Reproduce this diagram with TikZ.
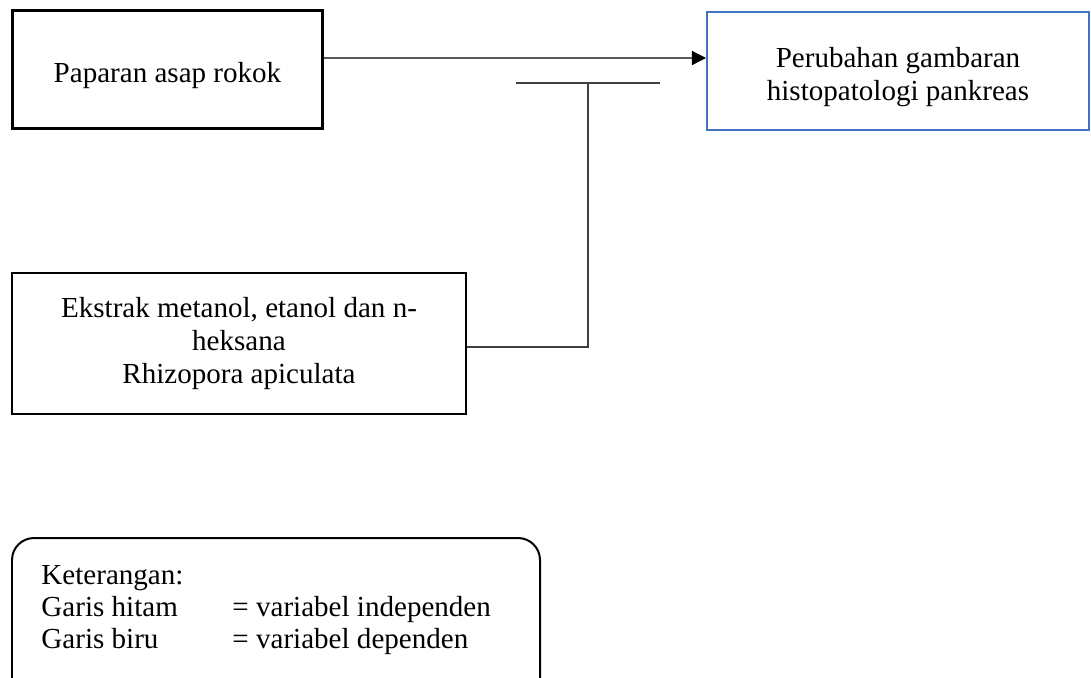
\documentclass[tikz,border=0pt]{standalone}
\usepackage{fontspec}
\setmainfont{Liberation Serif}
\usetikzlibrary{arrows.meta,positioning}
\definecolor{depblue}{RGB}{68,114,196}
\definecolor{teegray}{RGB}{64,64,64}
\tikzset{
  varbox/.style={draw=black, line width=1.1pt, minimum height=1.77cm, align=center,
                 inner sep=0pt, font=\fontsize{12.4pt}{14pt}\selectfont},
  depbox/.style={varbox, draw=depblue, line width=0.85pt},
  arr/.style={-{Triangle[length=6pt,width=6pt]}, line width=0.55pt},
  tline/.style={teegray, line width=0.65pt},
  legbox/.style={draw=black, line width=0.85pt, rounded corners=0.33cm},
}

\begin{document}
\begin{tikzpicture}[x=0.015cm, y=-0.015cm]
  \useasboundingbox (0,0) rectangle (1091,677);
  % variables
  \node[varbox, text height=13.5pt, minimum width=4.65cm] (asap) at (167.5,69.5) {Paparan asap rokok};
  \node[depbox, text height=28pt, minimum width=5.73cm] (pankreas) at (898,71)
       {Perubahan gambaran\\histopatologi pankreas};
  \node[varbox, minimum width=6.81cm, minimum height=2.115cm] (ekstrak) at (239,343.5)
       {Ekstrak metanol, etanol dan n-\\heksana\\Rhizopora apiculata};
  % arrow and tee
  \draw[arr] ([yshift=0.1725cm]asap.east) -- ([yshift=0.195cm]pankreas.west);
  \coordinate (tee) at (588,83);
  \coordinate (teeL) at (516,83);
  \coordinate (teeR) at (660,83);
  \draw[tline] (teeL) -- (teeR);
  \draw[tline] ([yshift=-0.05cm]ekstrak.east) -| (tee);
  % legend
  \draw[legbox] (12,538) rectangle (540,720);
  \node[anchor=base west, inner sep=0pt, font=\fontsize{12.4pt}{13.7pt}\selectfont] (ket) at (41,584)
    {\begin{tabular}[t]{@{}p{2.865cm}@{}l@{}}
       Keterangan: & \\
       Garis hitam & = variabel independen\\
       Garis biru  & = variabel dependen
     \end{tabular}};
\end{tikzpicture}
\end{document}
